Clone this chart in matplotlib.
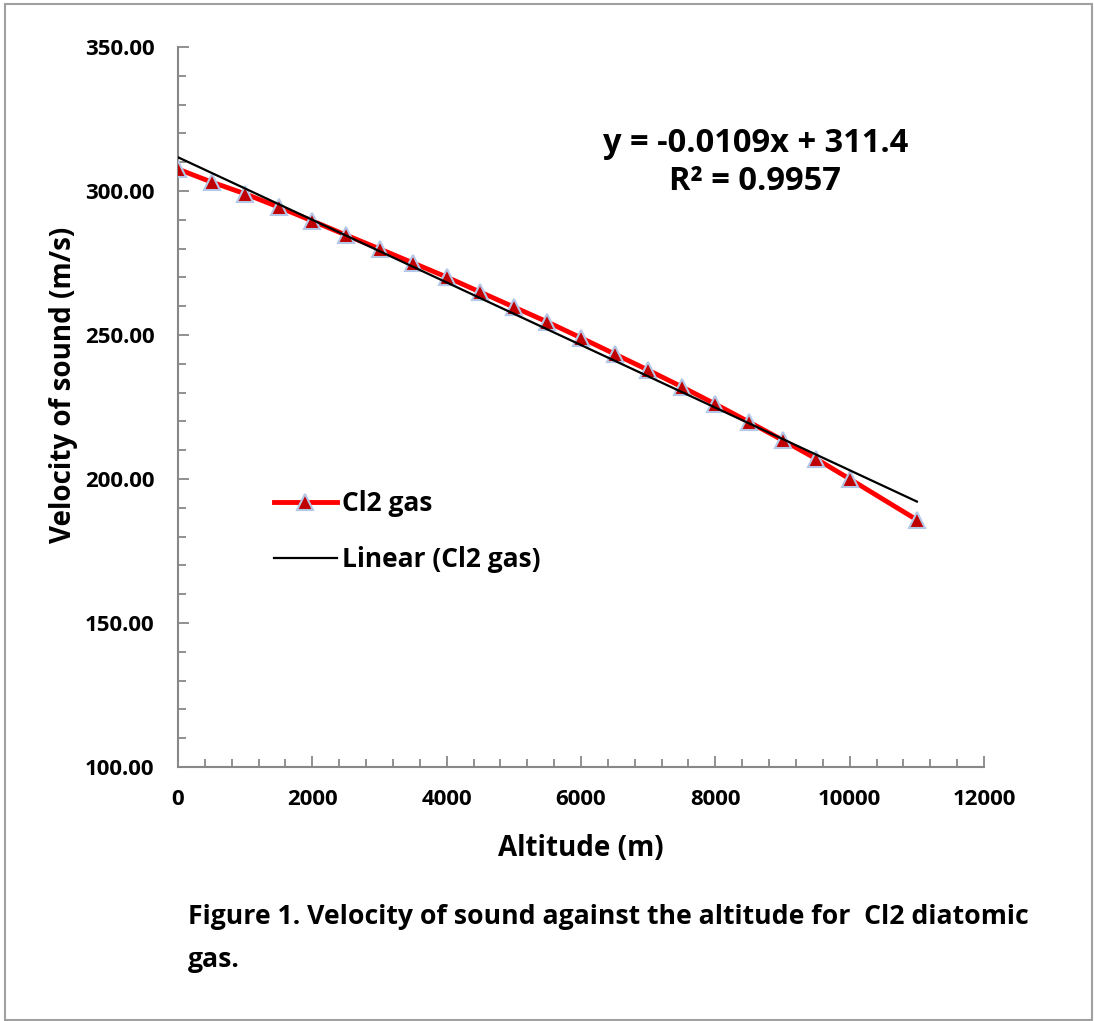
import matplotlib
matplotlib.use('Agg')
import matplotlib.pyplot as plt
import numpy as np
from matplotlib.ticker import MultipleLocator, FormatStrFormatter
from matplotlib.patches import Rectangle

plt.rcParams['font.family'] = ['Open Sans', 'DejaVu Sans']
plt.rcParams['font.weight'] = 'bold'

# Data
altitude = [0, 500, 1000, 1500, 2000, 2500, 3000, 3500, 4000, 4500, 5000,
            5500, 6000, 6500, 7000, 7500, 8000, 8500, 9000, 9500, 10000, 11000]
velocity = [307.6, 303.1, 299.0, 294.4, 289.6, 284.7, 279.9, 275.0, 270.1,
            264.9, 259.7, 254.5, 249.0, 243.4, 237.8, 232.0, 226.0, 219.8,
            213.5, 207.0, 200.0, 185.8]

# Linear trendline
slope, intercept = np.polyfit(altitude, velocity, 1)
fit_x = np.array([0, 11000])
fit_y = slope * fit_x + intercept

fig = plt.figure(figsize=(10.94, 10.21), dpi=100)
ax = fig.add_axes([0.1627, 0.2488, 0.7368, 0.7052])

ax.plot(altitude, velocity, color='red', linewidth=3.5, marker='^',
        markersize=11, markerfacecolor='#C00000', markeredgecolor='#B4C7E7',
        markeredgewidth=1.5, label='Cl2 gas', zorder=3)
ax.plot(fit_x, fit_y, color='black', linewidth=1.6,
        label='Linear (Cl2 gas)', zorder=4)

ax.set_xlim(0, 12000)
ax.set_ylim(100, 350)
ax.xaxis.set_major_locator(MultipleLocator(2000))
ax.xaxis.set_minor_locator(MultipleLocator(400))
ax.yaxis.set_major_locator(MultipleLocator(50))
ax.yaxis.set_minor_locator(MultipleLocator(10))
ax.yaxis.set_major_formatter(FormatStrFormatter('%.2f'))

for s in ['top', 'right']:
    ax.spines[s].set_visible(False)
for s in ['left', 'bottom']:
    ax.spines[s].set_color('#888888')
    ax.spines[s].set_linewidth(1.5)

ax.tick_params(axis='both', which='both', direction='in', color='#888888',
               width=1.3, labelsize=16)
ax.tick_params(axis='both', which='major', length=8)
ax.tick_params(axis='both', which='minor', length=6)
ax.tick_params(axis='x', which='major', pad=16)
ax.tick_params(axis='y', which='major', pad=17)
for lbl in ax.get_xticklabels() + ax.get_yticklabels():
    lbl.set_fontweight('bold')

ax.set_xlabel('Altitude (m)', fontsize=20, fontweight='bold', labelpad=17)
# y label sits just left of the tick labels
fig.text(64 / 1094, 1 - 385 / 1021, 'Velocity of sound (m/s)', fontsize=20,
         fontweight='bold', rotation=90, ha='center', va='center')

ax.text(0.716, 0.84, 'y = -0.0109x + 311.4\nR² = 0.9957', transform=ax.transAxes,
        fontsize=23.5, fontweight='bold', ha='center', va='center',
        linespacing=1.2)

ax.legend(loc='upper left', bbox_to_anchor=(250 / 1094, 1 - 466 / 1021),
          bbox_transform=fig.transFigure, frameon=False,
          handlelength=2.4, handletextpad=0.2, labelspacing=1.1,
          prop={'weight': 'bold', 'size': 19})

fig.text(188 / 1094, 1 - 917 / 1021,
         'Figure 1. Velocity of sound against the altitude for  Cl2 diatomic',
         fontsize=19.2, fontweight='bold', ha='left', va='center')
fig.text(188 / 1094, 1 - 960 / 1021, 'gas.', fontsize=19.2,
         fontweight='bold', ha='left', va='center')

# outer border
fig.patches.append(Rectangle((5 / 1094, 1 / 1021), 1087 / 1094, 1016 / 1021,
                             transform=fig.transFigure, fill=False,
                             edgecolor='#A0A0A0', linewidth=1.5))

fig.savefig('out.png', dpi=100)
